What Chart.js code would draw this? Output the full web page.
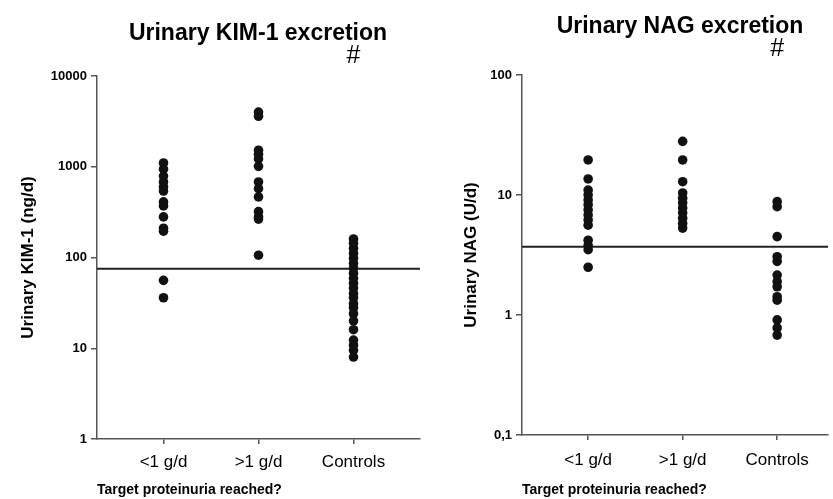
<!DOCTYPE html>
<html><head><meta charset="utf-8">
<script src="https://cdn.jsdelivr.net/npm/chart.js@4/dist/chart.umd.min.js"></script>
<style>
html,body{margin:0;padding:0;background:#fff;}
body{width:833px;height:499px;position:relative;overflow:hidden;}
.wrap{position:absolute;top:0;height:499px;}
</style></head><body>
<div class="wrap" style="left:0;width:425px"><canvas id="c1"></canvas></div>
<div class="wrap" style="left:430px;width:403px"><canvas id="c2"></canvas></div>
<script>
// ---- data ----
const categories = ['<1 g/d', '>1 g/d', 'Controls'];
const kimTicks = [1, 10, 100, 1000, 10000];
const kimTickLabels = ['1', '10', '100', '1000', '10000'];
const nagTicks = [0.1, 1, 10, 100];
const nagTickLabels = ['0,1', '1', '10', '100'];

const kimBelow1 = [1100, 940, 790, 680, 600, 540, 410, 370, 280, 210, 195, 56, 36];
const kimAbove1 = [4000, 3600, 1520, 1370, 1220, 1010, 680, 575, 465, 320, 280, 265, 106];
const kimControls = [160, 144, 126, 111, 98, 86, 76, 67, 59, 52, 46, 40, 36, 31, 28, 24, 20, 16, 12.3, 10.8, 9.5, 8];
const kimCutoff = 75;

const nagBelow1 = [19.6, 13.6, 11, 10, 9.1, 8.3, 7.5, 6.8, 6.2, 5.6, 4.2, 3.8, 3.5, 2.5];
const nagAbove1 = [28, 19.6, 12.9, 10.4, 9.4, 8.6, 7.8, 7.1, 6.4, 5.8, 5.3];
const nagControls = [8.8, 8.0, 4.5, 3.06, 2.8, 2.15, 1.9, 1.72, 1.42, 1.33, 0.91, 0.78, 0.68];
const nagCutoff = 3.7;

const chartTitles = ['Urinary KIM-1 excretion', 'Urinary NAG excretion'];
const yTitles = ['Urinary KIM-1 (ng/d)', 'Urinary NAG (U/d)'];
const xTitle = 'Target proteinuria reached?';
const markText = '#';

// ---- drawing ----
const FONT = 'Arial, "Liberation Sans", sans-serif';

const textPlugin = {
  id: 'texts',
  afterDraw(chart, args, o) {
    const ctx = chart.ctx;
    ctx.save();
    ctx.fillStyle = '#000';
    ctx.textAlign = 'center';
    ctx.textBaseline = 'middle';
    ctx.font = 'bold 23px ' + FONT;
    ctx.fillText(o.title, o.titleX, o.titleY);
    ctx.font = '25px ' + FONT;
    ctx.fillText(markText, chart.scales.x.getPixelForValue(o.markAt), o.markY);
    ctx.restore();
  }
};

function groupPoints(groups) {
  return groups.map((vals, i) => vals.map(v => ({ x: i, y: v })));
}

function makeChart(id, groups, cutoff, ticks, tickLabels, yMin, yMax, xMin, xMax, cfg) {
  const pts = groupPoints(groups);
  const datasets = pts.map(d => ({
    type: 'scatter', data: d, pointRadius: 4.8, pointHoverRadius: 4.8,
    backgroundColor: '#111', borderColor: '#111', borderWidth: 0
  }));
  datasets.push({
    type: 'line', data: [{ x: xMin, y: cutoff }, { x: xMax, y: cutoff }],
    borderColor: '#222', borderWidth: 2, pointRadius: 0, fill: false
  });
  return new Chart(document.getElementById(id), {
    type: 'scatter',
    data: { datasets },
    plugins: [textPlugin],
    options: {
      responsive: true, maintainAspectRatio: false, animation: false,
      layout: { padding: { left: 0, top: cfg.top, right: cfg.right, bottom: 0 } },
      plugins: {
        legend: { display: false }, tooltip: { enabled: false },
        texts: { title: cfg.title, titleX: cfg.titleX, titleY: cfg.titleY, markAt: 2, markY: cfg.markY }
      },
      scales: {
        x: {
          type: 'linear', min: xMin, max: xMax,
          afterBuildTicks: s => { s.ticks = categories.map((c, i) => ({ value: i })); },
          afterFit: s => { s.height = cfg.xHeight; },
          ticks: { callback: v => categories[v], color: '#000', font: { family: FONT, size: 17 }, padding: cfg.xPad, maxRotation: 0, autoSkip: false },
          grid: { drawOnChartArea: false, drawTicks: true, tickLength: 5, color: '#555', lineWidth: 1.5 },
          border: { display: true, color: '#555', width: 1.5 },
          title: { display: true, text: xTitle, align: 'start', color: '#000', font: { family: FONT, size: 14, weight: 'bold' }, padding: { top: 0, bottom: 0 } }
        },
        y: {
          type: 'logarithmic', min: yMin, max: yMax,
          afterBuildTicks: s => { s.ticks = ticks.map(v => ({ value: v })); },
          afterFit: s => { s.width = cfg.yWidth; },
          ticks: { callback: (v) => tickLabels[ticks.indexOf(v)], color: '#000', font: { family: FONT, size: 13, weight: 'bold' }, padding: 4, autoSkip: false },
          grid: { drawOnChartArea: false, drawTicks: true, tickLength: 6, color: '#555', lineWidth: 1.5 },
          border: { display: true, color: '#555', width: 1.5 },
          title: { display: true, text: cfg.yTitle, color: '#000', font: { family: FONT, size: 17, weight: 'bold' }, padding: { top: cfg.yTitlePad, bottom: 0 } }
        }
      }
    }
  });
}

makeChart('c1', [kimBelow1, kimAbove1, kimControls], kimCutoff, kimTicks, kimTickLabels, 1, 10000, -0.7, 2.7, {
  top: 76, right: 5, xHeight: 60, yWidth: 97, xPad: 8, yTitlePad: 18,
  title: chartTitles[0], titleX: 258, titleY: 34, markY: 56, yTitle: yTitles[0]
});
makeChart('c2', [nagBelow1, nagAbove1, nagControls], nagCutoff, nagTicks, nagTickLabels, 0.1, 100, -0.7, 2.54, {
  top: 75, right: 0, xHeight: 64, yWidth: 92, xPad: 10, yTitlePad: 31,
  title: chartTitles[1], titleX: 250, titleY: 27, markY: 49, yTitle: yTitles[1]
});
</script>
</body></html>
